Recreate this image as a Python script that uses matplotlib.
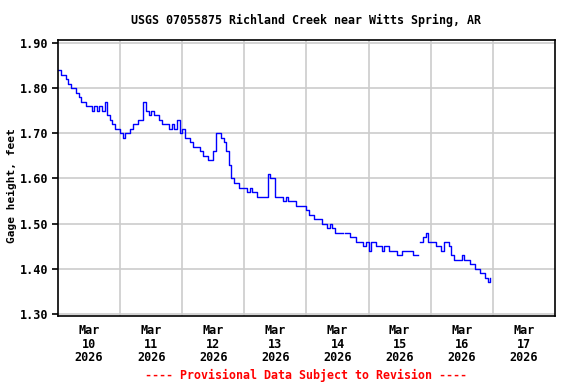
import numpy as np
import pandas as pd
import matplotlib
matplotlib.use("Agg")
import matplotlib.pyplot as plt

# hourly gage height readings (ft), starting Mar 10 2026 00:00, nan = gap
mar10 = [1.84, 1.83, 1.83, 1.82, 1.81, 1.80, 1.80, 1.79, 1.78, 1.77, 1.77, 1.76,
         1.76, 1.75, 1.76, 1.75, 1.76, 1.75, 1.77, 1.74, 1.73, 1.72, 1.71, 1.71]
mar11 = [1.70, 1.69, 1.70, 1.70, 1.71, 1.72, 1.72, 1.73, 1.73, 1.77, 1.75, 1.74,
         1.75, 1.74, 1.74, 1.73, 1.72, 1.72, 1.72, 1.71, 1.72, 1.71, 1.73, 1.70]
mar12 = [1.71, 1.69, 1.69, 1.68, 1.67, 1.67, 1.67, 1.66, 1.65, 1.65, 1.64, 1.64,
         1.66, 1.70, 1.70, 1.69, 1.68, 1.66, 1.63, 1.60, 1.59, 1.59, 1.58, 1.58]
mar13 = [1.58, 1.57, 1.58, 1.57, 1.57, 1.56, 1.56, 1.56, 1.56, 1.61, 1.60, 1.60,
         1.56, 1.56, 1.56, 1.55, 1.56, 1.55, 1.55, 1.55, 1.54, 1.54, 1.54, 1.54]
mar14 = [1.53, 1.52, 1.52, 1.51, 1.51, 1.51, 1.50, 1.50, 1.49, 1.50, 1.49, 1.48,
         1.48, 1.48, np.nan, 1.48, 1.48, 1.47, 1.47, 1.46, 1.46, 1.46, 1.45, 1.46]
mar15 = [1.44, 1.46, 1.46, 1.45, 1.45, 1.44, 1.45, 1.45, 1.44, 1.44, 1.44, 1.43,
         1.43, 1.44, 1.44, 1.44, 1.44, 1.43, 1.43, np.nan, 1.46, 1.47, 1.48, 1.46]
mar16 = [1.46, 1.46, 1.45, 1.45, 1.44, 1.46, 1.46, 1.45, 1.43, 1.42, 1.42, 1.42,
         1.43, 1.42, 1.42, 1.41, 1.41, 1.40, 1.40, 1.39, 1.39, 1.38, 1.37, 1.38]

gage = mar10 + mar11 + mar12 + mar13 + mar14 + mar15 + mar16
times = pd.date_range("2026-03-10 00:00", periods=len(gage), freq="h")

day_ticks = pd.date_range("2026-03-10 12:00", periods=8, freq="D")
day_labels = [d.strftime("Mar\n%d\n%Y") for d in day_ticks]
grid_days = pd.date_range("2026-03-11", periods=7, freq="D")
y_ticks = [1.30, 1.40, 1.50, 1.60, 1.70, 1.80, 1.90]

font = "DejaVu Sans Mono"

fig = plt.figure(figsize=(5.76, 3.84), dpi=100)
ax = fig.add_axes([0.1007, 0.177, 0.8628, 0.719])

ax.plot(times, gage, color="#0000ff", linewidth=1.0, drawstyle="steps-post")

ax.set_xlim(pd.Timestamp("2026-03-10"), pd.Timestamp("2026-03-18"))
ax.set_ylim(1.2956, 1.9066)

for g in grid_days:
    ax.axvline(g, color="#cccccc", linewidth=1.2, zorder=0)
for v in y_ticks:
    ax.axhline(v, color="#cccccc", linewidth=1.2, zorder=0)

ax.set_yticks(y_ticks)
ax.set_yticklabels(["%.2f" % v for v in y_ticks],
                   fontfamily=font, fontweight="bold", fontsize=8.5)
ax.set_xticks(day_ticks)
ax.set_xticklabels(day_labels, fontfamily=font, fontweight="bold", fontsize=8.5,
                   linespacing=1.05)
ax.tick_params(axis="x", length=0, pad=6)
ax.tick_params(axis="y", length=4, width=1.2, pad=3)

for s in ax.spines.values():
    s.set_linewidth(1.2)

# axis label and titles placed like the usgs plot
fig.text(12 / 576, 1 - 186 / 384, "Gage height, feet", rotation=90,
         ha="center", va="center", fontfamily=font, fontweight="bold", fontsize=8)
fig.text(306 / 576, 0.948, "USGS 07055875 Richland Creek near Witts Spring, AR",
         ha="center", va="center", fontfamily=font, fontweight="bold", fontsize=8.4)
fig.text(306 / 576, 0.023, "---- Provisional Data Subject to Revision ----",
         ha="center", va="center", fontfamily=font, fontweight="bold", fontsize=8.4,
         color="#ff0000")

fig.savefig("out.png", dpi=100)
